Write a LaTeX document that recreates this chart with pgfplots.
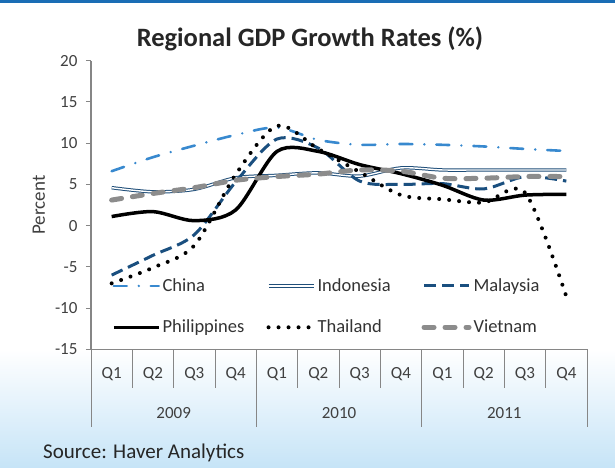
\documentclass[border=0pt]{standalone}
\usepackage{pgfplots}
\pgfplotsset{compat=1.18}
\usepackage{fontspec}
\setmainfont{Carlito}
\definecolor{topblue}{HTML}{1A6DB5}
\definecolor{bgblue}{HTML}{C6E4F7}
\definecolor{axisgray}{HTML}{868686}
\definecolor{labelgray}{HTML}{404040}
\definecolor{chinablue}{HTML}{3889CF}
\definecolor{indoblue}{HTML}{1F4E79}
\definecolor{malaynavy}{HTML}{1A4F7F}
\definecolor{vietgray}{HTML}{8C8C8C}
\begin{document}
\begin{tikzpicture}
\fill[white] (0,0) rectangle (615bp,-468bp);
\shade[top color=white,bottom color=bgblue] (0,-349bp) rectangle (615bp,-468bp);
\fill[topblue] (0,0) rectangle (615bp,-2.5bp);
\node[font=\bfseries\fontsize{26.5bp}{30bp}\selectfont, text=black!85, anchor=base, inner sep=0pt] at (310bp,-46.7bp) {Regional GDP Growth Rates (\%)};
\node[font=\fontsize{21bp}{24bp}\selectfont, text=black!85, anchor=base west, inner sep=0pt] at (43bp,-458bp) {Source: Haver Analytics};
\begin{axis}[
  at={(91bp,-349.3bp)}, anchor=south west,
  scale only axis, width=496bp, height=288.6bp,
  xmin=-0.5, xmax=11.5, ymin=-15, ymax=20,
  axis x line*=bottom, axis y line*=left,
  axis line style={draw=axisgray, line width=1.3bp},
  ytick={-15,-10,...,20},
  /pgf/number format/assume math mode=true,
  tick align=outside,
  major tick length=5bp,
  ytick style={draw=axisgray, line width=1bp},
  xtick={0,...,11},
  xticklabels={Q1,Q2,Q3,Q4,Q1,Q2,Q3,Q4,Q1,Q2,Q3,Q4},
  xtick style={draw=none},
  extra x ticks={1.5,5.5,9.5},
  extra x tick labels={2009,2010,2011},
  extra x tick style={xticklabel style={yshift=-40bp}},
  tick label style={font=\fontsize{17bp}{20bp}\selectfont, text=labelgray},
  xticklabel style={yshift=-10bp},
  yticklabel style={xshift=-5bp},
  ylabel={Percent},
  ylabel style={at={(axis description cs:-0.105,0.5)}, anchor=center, font=\fontsize{19bp}{22bp}\selectfont, text=labelgray},
  clip=false,
  legend columns=3,
  legend cell align=left,
  legend image code/.code={\draw[#1] (0bp,0bp) -- (45bp,0bp);},
  legend style={draw=none, fill=none, inner sep=0pt,
    at={(axis description cs:0.042,0.245)}, anchor=north west,
    font=\fontsize{18.5bp}{22bp}\selectfont, text=black!80,
    nodes={inner xsep=2bp, inner ysep=0pt, text depth=0.15em},
    row sep=27bp, column sep=0pt},
]
\addplot[smooth, chinablue, line width=2.6bp, line cap=round, dash pattern=on 13bp off 12bp on 0bp off 12bp]
  coordinates {(0,6.6) (1,8.3) (2,9.7) (3,11.0) (4,11.9) (5,10.4) (6,9.8) (7,9.9) (8,9.8) (9,9.6) (10,9.3) (11,9.05)};
\addlegendentry{\makebox[102bp][l]{China}}
\addplot[smooth, draw=indoblue, line width=1bp, double=white, double distance=1.4bp]
  coordinates {(0,4.6) (1,4.1) (2,4.4) (3,5.8) (4,6.1) (5,6.4) (6,6.0) (7,7.0) (8,6.75) (9,6.75) (10,6.75) (11,6.75)};
\addlegendentry{\makebox[102bp][l]{Indonesia}}
\addplot[smooth, malaynavy, line width=3bp, dash pattern=on 12bp off 6bp]
  coordinates {(0,-6.0) (1,-3.6) (2,-1.1) (3,5.3) (4,10.5) (5,9.4) (6,5.4) (7,5.0) (8,5.1) (9,4.45) (10,5.95) (11,5.4)};
\addlegendentry{\makebox[102bp][l]{Malaysia}}
\addplot[smooth, black, line width=3.5bp]
  coordinates {(0,1.1) (1,1.7) (2,0.6) (3,1.9) (4,9.0) (5,9.0) (6,7.4) (7,6.3) (8,4.9) (9,3.1) (10,3.7) (11,3.8)};
\addlegendentry{\makebox[102bp][l]{Philippines}}
\addplot[smooth, black, line width=4bp, line cap=round, dash pattern=on 0bp off 10bp]
  coordinates {(0,-7.0) (1,-5.1) (2,-2.4) (3,6.2) (4,12.1) (5,9.3) (6,6.5) (7,3.7) (8,3.2) (9,2.8) (10,4.0) (11,-8.6)};
\addlegendentry{\makebox[102bp][l]{Thailand}}
\addplot[smooth, vietgray, line width=5bp, line cap=round, dash pattern=on 10bp off 11bp]
  coordinates {(0,3.1) (1,3.9) (2,4.6) (3,5.5) (4,5.95) (5,6.25) (6,6.75) (7,6.6) (8,5.75) (9,5.75) (10,5.95) (11,5.95)};
\addlegendentry{\makebox[102bp][l]{Vietnam}}
\pgfplotsinvokeforeach{0.5,1.5,2.5,4.5,5.5,6.5,8.5,9.5,10.5}{
  \draw[axisgray, line width=1bp] (axis cs:#1,-15) -- ++(0pt,-39bp);
}
\pgfplotsinvokeforeach{-0.5,3.5,7.5,11.5}{
  \draw[axisgray, line width=1bp] (axis cs:#1,-15) -- ++(0pt,-78bp);
}
\end{axis}
\pgfresetboundingbox
\path (0,0) rectangle (615bp,-468bp);
\end{tikzpicture}
\end{document}
